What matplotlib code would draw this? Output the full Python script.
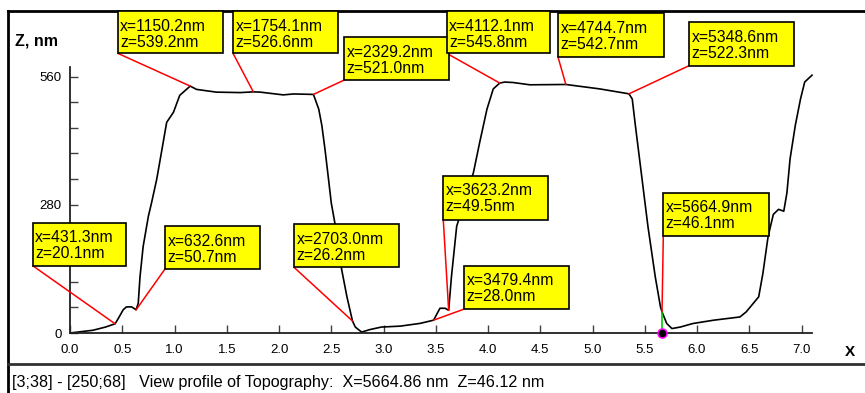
import matplotlib
matplotlib.use("Agg")
import matplotlib.pyplot as plt
from matplotlib.patches import Rectangle
from matplotlib.lines import Line2D
from matplotlib.ticker import FixedLocator, MultipleLocator, FormatStrFormatter

# ---------------- data ----------------
profile_x_um = [0.00, 0.22, 0.34, 0.4313, 0.46, 0.51, 0.54, 0.59, 0.6326, 0.653, 0.67, 0.70,
                0.75, 0.78, 0.83, 0.88, 0.925, 0.99, 1.05, 1.1502, 1.21, 1.40, 1.63, 1.7541,
                1.82, 2.04, 2.14, 2.3292, 2.38, 2.41, 2.44, 2.47, 2.50, 2.54, 2.60, 2.65,
                2.7030, 2.73, 2.79, 2.87, 2.98, 3.16, 3.35, 3.4794, 3.54, 3.59, 3.6232, 3.65,
                3.70, 3.86, 3.92, 3.99, 4.05, 4.1121, 4.16, 4.24, 4.40, 4.7447, 5.07, 5.3486,
                5.38, 5.41, 5.47, 5.53, 5.60, 5.65, 5.6649, 5.71, 5.76, 5.84, 5.96, 6.16,
                6.41, 6.47, 6.59, 6.63, 6.68, 6.73, 6.78, 6.83, 6.86, 6.89, 6.94, 6.99,
                7.03, 7.10]
profile_z_nm = [0, 6, 13, 20.1, 31, 51, 57, 57, 50.7, 65, 123, 189,
                255, 284, 336, 401, 460, 482, 519, 539.2, 532, 526, 525, 526.6,
                526, 520, 522, 521.0, 489, 453, 401, 343, 284, 233, 138, 79,
                26.2, 13, 2, 7.5, 13, 15, 21, 28.0, 54, 54, 49.5, 123,
                233, 350, 416, 489, 533, 545.8, 548, 547, 542, 542.7, 533, 522.3,
                511, 453, 343, 233, 123, 57, 46.1, 20.7, 9.7, 13, 20.7, 28,
                35, 46, 79, 130, 211, 259, 270, 266, 306, 380, 453, 511,
                548, 563]

ann_x_nm = [431.3, 632.6, 1150.2, 1754.1, 2329.2, 2703.0, 3479.4, 3623.2,
            4112.1, 4744.7, 5348.6, 5664.9]
ann_z_nm = [20.1, 50.7, 539.2, 526.6, 521.0, 26.2, 28.0, 49.5,
            545.8, 542.7, 522.3, 46.1]

x_ticks = [0.0, 0.5, 1.0, 1.5, 2.0, 2.5, 3.0, 3.5, 4.0, 4.5, 5.0, 5.5, 6.0, 6.5, 7.0]
y_ticks = [0, 280, 560]

cursor_x_um = 5.6649
status_text = "[3;38] - [250;68]   View profile of Topography:  X=5664.86 nm  Z=46.12 nm"

# box layout (left, top, right, bottom) in figure pixels, same order as annotations
box_px = [(32.7, 222.7, 126.0, 265.7), (165.0, 226.0, 259.7, 269.0),
          (117.7, 11.0, 222.7, 53.3), (233.0, 11.0, 338.0, 53.3),
          (344.3, 37.3, 449.0, 80.0), (294.0, 224.3, 399.0, 267.3),
          (464.3, 265.7, 569.3, 309.0), (443.3, 175.7, 548.3, 220.0),
          (446.7, 11.0, 550.0, 53.3), (558.0, 13.3, 664.0, 57.0),
          (689.0, 22.3, 794.3, 65.7), (663.3, 192.7, 769.0, 236.0)]

# ---------------- figure ----------------
W, H = 865, 393
plt.rcParams['font.family'] = ['Liberation Sans', 'DejaVu Sans']
fig = plt.figure(figsize=(W / 100, H / 100), dpi=100)
fig.patch.set_facecolor('white')


def ff(px, py):
    return (px / W, 1 - py / H)


ax_l, ax_r, ax_t, ax_b = 70, 812, 67.4, 333
ax = fig.add_axes([ax_l / W, 1 - ax_b / H, (ax_r - ax_l) / W, (ax_b - ax_t) / H])
ax.set_xlim(0, 7.1)
ax.set_ylim(0, 580)
ax.patch.set_alpha(0)

for s in ['top', 'right']:
    ax.spines[s].set_visible(False)
for s in ['left', 'bottom']:
    ax.spines[s].set_linewidth(1.3)
    ax.spines[s].set_color('#202020')

ax.xaxis.set_major_locator(FixedLocator(x_ticks))
ax.xaxis.set_major_formatter(FormatStrFormatter('%.1f'))
ax.yaxis.set_major_locator(FixedLocator(y_ticks))
ax.yaxis.set_major_formatter(FormatStrFormatter('%d'))
ax.yaxis.set_minor_locator(MultipleLocator(56))
ax.tick_params(axis='x', direction='in', length=6, width=1, color='#404040',
               labelsize=9.5, pad=8)
ax.tick_params(axis='y', which='both', direction='in', length=6, width=1,
               color='#404040', labelsize=9.5, pad=6)

# profile line
ax.plot(profile_x_um, profile_z_nm, color='black', lw=1.2, clip_on=False, zorder=2)

# annotation leaders
for i, (xn, zn) in enumerate(zip(ann_x_nm, ann_z_nm)):
    l, t, r, b = box_px[i]
    xu = xn / 1000.0
    if i == len(ann_x_nm) - 1:
        ax.plot([xu, xu], [0, zn], color='#00cc00', lw=1.2, clip_on=False, zorder=3)
    ax.annotate('', xy=(xu, zn), xycoords='data', xytext=ff(l, b),
                textcoords='figure fraction',
                arrowprops=dict(arrowstyle='-', color='red', lw=1.1,
                                shrinkA=0, shrinkB=0), zorder=3)

# cursor marker
ax.plot([cursor_x_um], [0], marker='o', ms=6.5, mfc='black', mec='#ff00ff', mew=1.1,
        clip_on=False, zorder=5)

# boxes with text
for i, (xn, zn) in enumerate(zip(ann_x_nm, ann_z_nm)):
    l, t, r, b = box_px[i]
    x0, y0 = ff(l, b)
    rect = Rectangle((x0, y0), (r - l) / W, (b - t) / H, transform=fig.transFigure,
                     facecolor='#ffff00', edgecolor='black', lw=1.2, zorder=10)
    fig.add_artist(rect)
    fig.text(*ff(l + 2.5, t + 19.7), f"x={xn:.1f}nm", fontsize=11.3, ha='left',
             va='baseline', color='black', zorder=11)
    fig.text(*ff(l + 2.5, t + 35.7), f"z={zn:.1f}nm", fontsize=11.3, ha='left',
             va='baseline', color='black', zorder=11)

# axis titles
fig.text(*ff(15, 45), "Z, nm", fontsize=11.5, fontweight='bold', ha='left', va='baseline')
fig.text(*ff(845, 356), "X", fontsize=11, fontweight='bold', ha='left', va='baseline')

# frame lines
frame_kw = dict(color='black', lw=2, transform=fig.transFigure)
fig.add_artist(Line2D([8 / W, 1.0], [1 - 10.7 / H, 1 - 10.7 / H], **frame_kw))
fig.add_artist(Line2D([8 / W, 8 / W], [1 - 10.7 / H, 0.0], **frame_kw))
fig.add_artist(Line2D([8 / W, 1.0], [1 - 364 / H, 1 - 364 / H], color='#303030', lw=2,
                      transform=fig.transFigure))

# status bar
fig.text(*ff(12, 387), status_text, fontsize=11.6, ha='left', va='baseline', color='black')

fig.savefig("out.png", dpi=100, facecolor='white')
